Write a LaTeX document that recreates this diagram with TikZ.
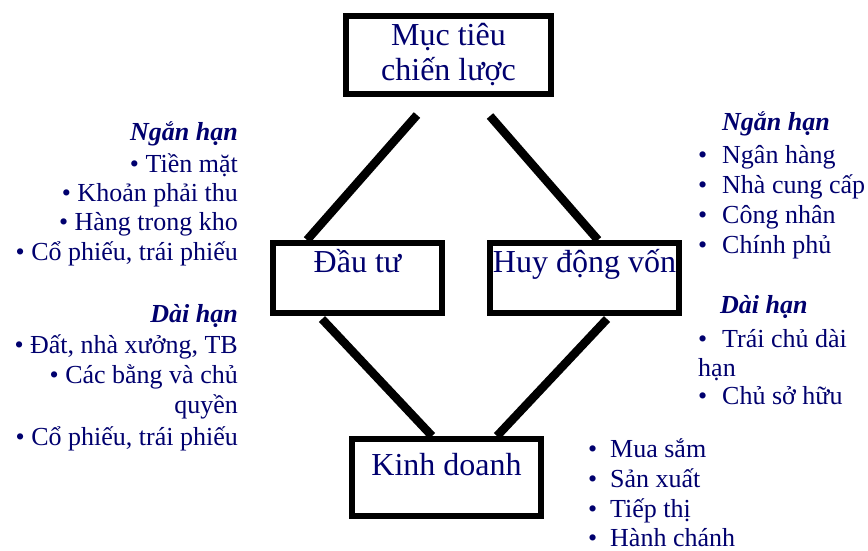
\documentclass[tikz,border=0pt]{standalone}
\usepackage{fontspec}
\setmainfont{Liberation Serif}
\usetikzlibrary{calc}
\definecolor{navy}{RGB}{0,0,110}
\begin{document}
\begin{tikzpicture}[x=1pt,y=-1pt,
  box/.style={draw=black,line width=6pt,inner sep=0pt,text=navy,font=\fontsize{32}{35}\selectfont},
  conn/.style={draw=black,line width=8.5pt},
  itm/.style={text=navy,font=\fontsize{26}{30}\selectfont,inner sep=0pt},
  hd/.style={text=navy,font=\fontsize{26}{30}\selectfont\bfseries\itshape,inner sep=0pt}]
\useasboundingbox (0,0) rectangle (868,551);
% boxes
\node[box,align=center,minimum width=205pt,minimum height=78pt] (goal) at (448.5,55) {Mục tiêu\\chiến lược};
\node[box,minimum width=169pt,text height=29pt,text depth=41pt] (invest) at (357.5,278) {Đầu tư};
\node[box,minimum width=189pt,text height=29pt,text depth=41pt] (raise) at (584.5,278) {Huy động vốn};
\node[box,minimum width=189pt,text height=36pt,text depth=41pt] (biz) at (446.5,477.5) {Kinh doanh};
% connectors
\draw[conn] ([xshift=-31.5pt,yshift=-18pt]goal.south) -- ([xshift=-50.5pt]invest.north);
\draw[conn] ([xshift=41.5pt,yshift=-19pt]goal.south) -- ([xshift=13.5pt]raise.north);
\draw[conn] ([xshift=-35.5pt,yshift=-3pt]invest.south) -- ([xshift=-14.5pt]biz.north);
\draw[conn] ([xshift=22.5pt,yshift=-3pt]raise.south) -- ([xshift=50.5pt]biz.north);
% left: short term
\node[hd,anchor=base east] (ls0) at (238,140) {Ngắn hạn};
\node[itm,anchor=base east] (ls1) at (238,172) {• Tiền mặt};
\node[itm,anchor=base east] (ls2) at (238,201) {• Khoản phải thu};
\node[itm,anchor=base east] (ls3) at (238,230) {• Hàng trong kho};
\node[itm,anchor=base east] (ls4) at (238,260) {• Cổ phiếu, trái phiếu};
% left: long term
\node[hd,anchor=base east] (ll0) at (238,322) {Dài hạn};
\node[itm,anchor=base east] (ll1) at (238,353) {• Đất, nhà xưởng, TB};
\node[itm,anchor=base east] (ll2) at (238,383) {• Các bằng và chủ};
\node[itm,anchor=base east] (ll3) at (238,413) {quyền};
\node[itm,anchor=base east] (ll4) at (238,445) {• Cổ phiếu, trái phiếu};
% right: short term
\node[hd,anchor=base west] (rs0) at (722,130) {Ngắn hạn};
\node[itm,anchor=base west] (rsb1) at (698,163) {•};
\node[itm,anchor=base west] (rs1) at (722,163) {Ngân hàng};
\node[itm,anchor=base west] (rsb2) at (698,193) {•};
\node[itm,anchor=base west] (rs2) at (722,193) {Nhà cung cấp};
\node[itm,anchor=base west] (rsb3) at (698,223) {•};
\node[itm,anchor=base west] (rs3) at (722,223) {Công nhân};
\node[itm,anchor=base west] (rsb4) at (698,253) {•};
\node[itm,anchor=base west] (rs4) at (722,253) {Chính phủ};
% right: long term
\node[hd,anchor=base west] (rl0) at (720,313) {Dài hạn};
\node[itm,anchor=base west] (rlb1) at (698,347) {•};
\node[itm,anchor=base west] (rl1) at (722,347) {Trái chủ dài};
\node[itm,anchor=base west] (rl2) at (698,376) {hạn};
\node[itm,anchor=base west] (rlb3) at (698,404) {•};
\node[itm,anchor=base west] (rl3) at (722,404) {Chủ sở hữu};
% bottom right: operations
\node[itm,anchor=base west] (bb1) at (588,457) {•};
\node[itm,anchor=base west] (b1) at (610,457) {Mua sắm};
\node[itm,anchor=base west] (bb2) at (588,487) {•};
\node[itm,anchor=base west] (b2) at (610,487) {Sản xuất};
\node[itm,anchor=base west] (bb3) at (588,517) {•};
\node[itm,anchor=base west] (b3) at (610,517) {Tiếp thị};
\node[itm,anchor=base west] (bb4) at (588,546) {•};
\node[itm,anchor=base west] (b4) at (610,546) {Hành chánh};
\end{tikzpicture}
\end{document}
